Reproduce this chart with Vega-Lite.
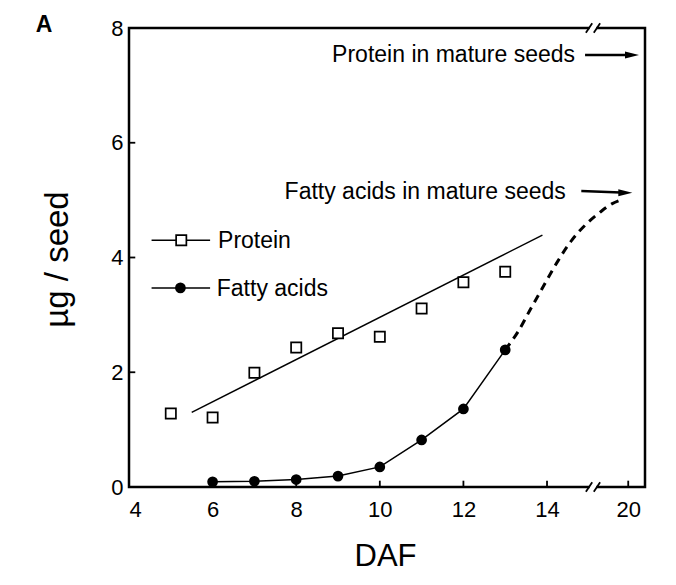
{
  "$schema": "https://vega.github.io/schema/vega-lite/v6.json",
  "width": 516,
  "height": 459,
  "autosize": "none",
  "padding": {"left": 129, "top": 28, "right": 31, "bottom": 98},
  "background": "white",
  "config": {
    "font": "Liberation Sans",
    "view": {"stroke": "black", "strokeWidth": 2.5},
    "axis": {
      "grid": false,
      "domain": false,
      "ticks": false,
      "labelFontSize": 22,
      "labelColor": "black",
      "titleFontWeight": "normal",
      "titleColor": "black"
    }
  },
  "datasets": {
    "protein": [
      {"daf": 5, "ug": 1.28}, {"daf": 6, "ug": 1.21}, {"daf": 7, "ug": 1.99},
      {"daf": 8, "ug": 2.43}, {"daf": 9, "ug": 2.68}, {"daf": 10, "ug": 2.62},
      {"daf": 11, "ug": 3.11}, {"daf": 12, "ug": 3.57}, {"daf": 13, "ug": 3.75}
    ],
    "fatty": [
      {"daf": 6, "ug": 0.09}, {"daf": 7, "ug": 0.1}, {"daf": 8, "ug": 0.13},
      {"daf": 9, "ug": 0.19}, {"daf": 10, "ug": 0.35}, {"daf": 11, "ug": 0.82},
      {"daf": 12, "ug": 1.36}, {"daf": 13, "ug": 2.39}
    ],
    "fit": [{"daf": 5.5, "ug": 1.3}, {"daf": 13.89, "ug": 4.39}],
    "dashed": [
      {"daf": 13, "ug": 2.39}, {"daf": 13.3, "ug": 2.7}, {"daf": 13.62, "ug": 3.12},
      {"daf": 13.93, "ug": 3.52}, {"daf": 14.27, "ug": 3.95}, {"daf": 14.59, "ug": 4.3},
      {"daf": 14.95, "ug": 4.59}, {"daf": 19.33, "ug": 4.79}, {"daf": 19.62, "ug": 4.94},
      {"daf": 19.85, "ug": 5.01}
    ],
    "arrows": [
      {"daf": 14.91, "daf2": 19.97, "ug": 7.53, "ug2": 7.53},
      {"daf": 14.82, "daf2": 19.82, "ug": 5.16, "ug2": 5.135}
    ],
    "heads": [{"daf": 20.09, "ug": 7.53}, {"daf": 19.93, "ug": 5.13}],
    "notes": [
      {"daf": 14.67, "ug": 7.53, "label": "Protein in mature seeds"},
      {"daf": 14.45, "ug": 5.15, "label": "Fatty acids in mature seeds"}
    ],
    "axisTicks": [
      {"daf": 6, "daf2": 6, "ug": 0, "ug2": 0.11},
      {"daf": 8, "daf2": 8, "ug": 0, "ug2": 0.11},
      {"daf": 10, "daf2": 10, "ug": 0, "ug2": 0.11},
      {"daf": 12, "daf2": 12, "ug": 0, "ug2": 0.11},
      {"daf": 14, "daf2": 14, "ug": 0, "ug2": 0.11},
      {"daf": 20, "daf2": 20, "ug": 0, "ug2": 0.11},
      {"daf": 4, "daf2": 4.15, "ug": 2, "ug2": 2},
      {"daf": 4, "daf2": 4.15, "ug": 4, "ug2": 4},
      {"daf": 4, "daf2": 4.15, "ug": 6, "ug2": 6}
    ],
    "legendLines": [
      {"daf": 4.54, "daf2": 5.94, "ug": 4.3, "ug2": 4.3},
      {"daf": 4.54, "daf2": 5.94, "ug": 3.47, "ug2": 3.47}
    ],
    "legendSquare": [{"daf": 5.25, "ug": 4.3}],
    "legendCircle": [{"daf": 5.23, "ug": 3.47}],
    "legendText": [
      {"daf": 6.13, "ug": 4.28, "label": "Protein"},
      {"daf": 6.1, "ug": 3.45, "label": "Fatty acids"}
    ],
    "breaks": [{"daf": 15.1, "ug": 0}, {"daf": 15.1, "ug": 8}],
    "panel": [{"daf": 1.97, "ug": 8.05, "label": "A"}]
  },
  "layer": [
    {
      "data": {"name": "fit"},
      "mark": {"type": "line", "color": "black", "strokeWidth": 1.5},
      "encoding": {
        "x": {
          "field": "daf", "type": "quantitative",
          "scale": {"domain": [4, 15.1, 19.16, 20.4], "range": [0, 464, 464, 516], "nice": false, "zero": false},
          "axis": {"values": [4, 6, 8, 10, 12, 14, 20], "format": "d", "labelPadding": 12, "title": "DAF", "titleFontSize": 31, "titleX": 256, "titleY": 69, "titleBaseline": "middle", "titleAlign": "center"}
        },
        "y": {
          "field": "ug", "type": "quantitative",
          "scale": {"domain": [0, 8], "nice": false, "zero": false},
          "axis": {"values": [0, 2, 4, 6, 8], "format": "d", "labelPadding": 6, "title": "µg / seed", "titleFontSize": 33, "titleX": -72, "titleY": 231, "titleBaseline": "middle", "titleAlign": "center", "titleAngle": -90}
        }
      }
    },
    {
      "data": {"name": "axisTicks"},
      "mark": {"type": "rule", "color": "black", "strokeWidth": 1.8},
      "encoding": {
        "x": {"field": "daf", "type": "quantitative"},
        "x2": {"field": "daf2"},
        "y": {"field": "ug", "type": "quantitative"},
        "y2": {"field": "ug2"}
      }
    },
    {
      "data": {"name": "dashed"},
      "mark": {"type": "line", "color": "black", "strokeWidth": 3, "strokeDash": [8, 6], "interpolate": "monotone"},
      "encoding": {
        "x": {"field": "daf", "type": "quantitative"},
        "y": {"field": "ug", "type": "quantitative"}
      }
    },
    {
      "data": {"name": "fatty"},
      "mark": {"type": "line", "color": "black", "strokeWidth": 1.5, "point": {"filled": true, "size": 115, "color": "black"}},
      "encoding": {
        "x": {"field": "daf", "type": "quantitative"},
        "y": {"field": "ug", "type": "quantitative"}
      }
    },
    {
      "data": {"name": "protein"},
      "mark": {"type": "point", "shape": "square", "size": 105, "filled": false, "fill": "white", "fillOpacity": 1, "stroke": "black", "strokeWidth": 1.7, "opacity": 1},
      "encoding": {
        "x": {"field": "daf", "type": "quantitative"},
        "y": {"field": "ug", "type": "quantitative"}
      }
    },
    {
      "data": {"name": "arrows"},
      "mark": {"type": "rule", "color": "black", "strokeWidth": 2.5},
      "encoding": {
        "x": {"field": "daf", "type": "quantitative"},
        "x2": {"field": "daf2"},
        "y": {"field": "ug", "type": "quantitative"},
        "y2": {"field": "ug2"}
      }
    },
    {
      "data": {"name": "heads"},
      "mark": {"type": "point", "shape": "M-1,-0.5L1,0L-1,0.5Z", "size": 196, "filled": true, "color": "black", "opacity": 1},
      "encoding": {
        "x": {"field": "daf", "type": "quantitative"},
        "y": {"field": "ug", "type": "quantitative"}
      }
    },
    {
      "data": {"name": "notes"},
      "mark": {"type": "text", "align": "right", "baseline": "middle", "fontSize": 23, "color": "black"},
      "encoding": {
        "x": {"field": "daf", "type": "quantitative"},
        "y": {"field": "ug", "type": "quantitative"},
        "text": {"field": "label"}
      }
    },
    {
      "data": {"name": "legendLines"},
      "mark": {"type": "rule", "color": "black", "strokeWidth": 1.5},
      "encoding": {
        "x": {"field": "daf", "type": "quantitative"},
        "x2": {"field": "daf2"},
        "y": {"field": "ug", "type": "quantitative"},
        "y2": {"field": "ug2"}
      }
    },
    {
      "data": {"name": "legendSquare"},
      "mark": {"type": "point", "shape": "square", "size": 105, "filled": false, "fill": "white", "fillOpacity": 1, "stroke": "black", "strokeWidth": 1.7, "opacity": 1},
      "encoding": {
        "x": {"field": "daf", "type": "quantitative"},
        "y": {"field": "ug", "type": "quantitative"}
      }
    },
    {
      "data": {"name": "legendCircle"},
      "mark": {"type": "point", "shape": "circle", "size": 115, "filled": true, "color": "black", "opacity": 1},
      "encoding": {
        "x": {"field": "daf", "type": "quantitative"},
        "y": {"field": "ug", "type": "quantitative"}
      }
    },
    {
      "data": {"name": "legendText"},
      "mark": {"type": "text", "align": "left", "baseline": "middle", "fontSize": 23, "color": "black"},
      "encoding": {
        "x": {"field": "daf", "type": "quantitative"},
        "y": {"field": "ug", "type": "quantitative"},
        "text": {"field": "label"}
      }
    },
    {
      "data": {"name": "breaks"},
      "mark": {"type": "point", "shape": "square", "size": 45, "filled": true, "color": "white", "opacity": 1},
      "encoding": {
        "x": {"field": "daf", "type": "quantitative"},
        "y": {"field": "ug", "type": "quantitative"}
      }
    },
    {
      "data": {"name": "breaks"},
      "mark": {"type": "point", "shape": "M-0.9,0.6L-0.1,-0.6M0.1,0.6L0.9,-0.6", "size": 250, "filled": false, "stroke": "black", "strokeWidth": 1.8, "opacity": 1},
      "encoding": {
        "x": {"field": "daf", "type": "quantitative"},
        "y": {"field": "ug", "type": "quantitative"}
      }
    },
    {
      "data": {"name": "panel"},
      "mark": {"type": "text", "align": "center", "baseline": "middle", "fontSize": 23, "fontWeight": "bold", "color": "black"},
      "encoding": {
        "x": {"field": "daf", "type": "quantitative"},
        "y": {"field": "ug", "type": "quantitative"},
        "text": {"field": "label"}
      }
    }
  ]
}
